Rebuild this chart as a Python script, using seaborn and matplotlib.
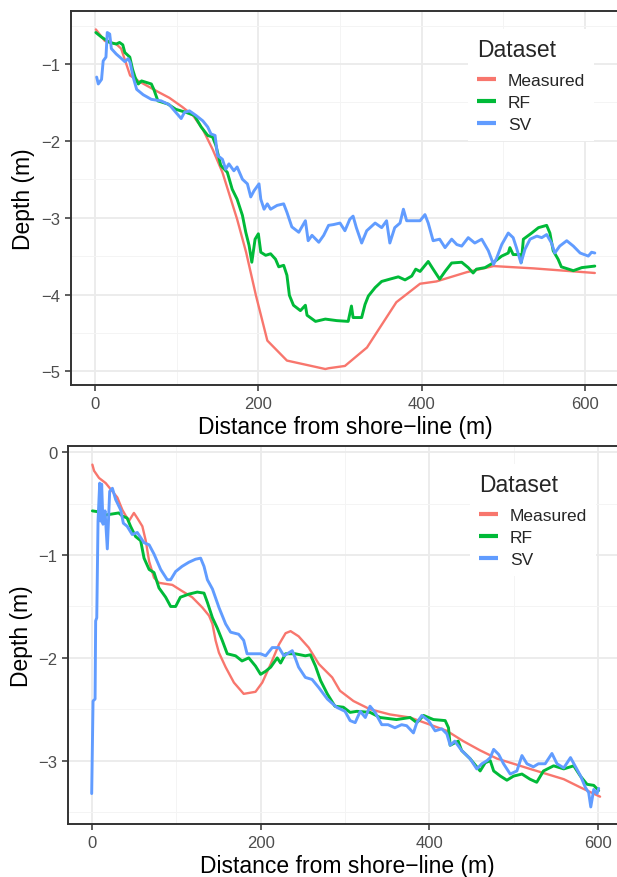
import numpy as np
import pandas as pd
import seaborn as sns
import matplotlib
matplotlib.use("Agg")
import matplotlib.pyplot as plt
from matplotlib.ticker import MultipleLocator

# ---- top transect ----
top_measured_x = [1, 12, 26, 32, 43, 53, 75, 91, 107, 120, 132, 144, 156, 174, 185, 197, 211, 235, 282,
                  286, 306, 333, 369, 398, 418, 455, 488, 537, 612]
top_measured_y = [-0.55, -0.70, -0.74, -0.80, -1.15, -1.22, -1.35, -1.44, -1.56, -1.67, -1.85, -2.11, -2.41,
                  -3.02, -3.45, -4.01, -4.60, -4.86, -4.97, -4.96, -4.93, -4.69, -4.10, -3.86, -3.83, -3.71,
                  -3.63, -3.66, -3.72]

top_rf_x = [1, 8, 18, 26, 30, 34, 36.5, 42.6, 46, 49, 53, 57, 69, 72, 77, 89, 99, 111.6, 121.7, 130, 138,
            144, 148, 154, 162, 168, 174, 180.5, 184.6, 188.6, 192, 196, 200, 203, 209, 215, 221, 225, 231,
            235, 238, 243, 251.5, 257.6, 259.6, 270, 282, 296, 310, 314, 316, 326.5, 330.6, 334.7, 343, 351,
            361, 371.4, 379.6, 387.8, 392.7, 398, 408, 414, 422, 428.6, 436.7, 449, 457, 463, 467, 477.6,
            485.7, 498, 506, 508, 512, 520, 522, 524.5, 534.7, 543, 553, 557, 561, 567, 571, 585.7, 596, 612]
top_rf_y = [-0.59, -0.65, -0.72, -0.74, -0.72, -0.75, -0.85, -0.91, -1.07, -1.17, -1.26, -1.22, -1.26,
            -1.33, -1.48, -1.52, -1.59, -1.63, -1.67, -1.82, -1.93, -1.95, -2.06, -2.32, -2.41, -2.63, -2.76,
            -2.97, -3.19, -3.36, -3.58, -3.28, -3.21, -3.45, -3.49, -3.47, -3.54, -3.64, -3.62, -3.75, -4.01,
            -4.14, -4.21, -4.14, -4.27, -4.35, -4.32, -4.34, -4.35, -4.15, -4.30, -4.30, -4.13, -4.02, -3.91,
            -3.83, -3.80, -3.77, -3.81, -3.76, -3.67, -3.70, -3.57, -3.67, -3.80, -3.70, -3.59, -3.58, -3.65,
            -3.72, -3.67, -3.65, -3.60, -3.50, -3.46, -3.39, -3.48, -3.48, -3.58, -3.28, -3.20, -3.13, -3.10,
            -3.20, -3.43, -3.54, -3.64, -3.69, -3.65, -3.63]

top_sv_x = [2, 4, 8, 10, 13.4, 15, 18, 20, 26, 32.5, 36.5, 40.6, 43, 46.7, 51, 59, 69, 81, 91, 99, 105.5,
            109.5, 115.6, 123.7, 132, 138, 142, 147, 150, 156, 160, 164, 170, 174, 180.5, 186.6, 190.7,
            194.7, 200.8, 203, 207, 211, 215, 223, 231, 235, 241, 249.5, 257.6, 261, 265.7, 274, 280, 286,
            292, 300, 306, 312, 316, 320, 326.5, 332.7, 343, 351, 357, 361, 367, 373.5, 377.6, 381.6, 390,
            398, 404, 408, 414, 422, 428.6, 436.7, 443, 449, 457, 465, 473.5, 481.6, 488, 492, 498, 506,
            512, 516, 521.6, 526.5, 532.7, 541, 547, 553, 559, 563, 569, 577.6, 585.7, 594, 604, 608, 612]
top_sv_y = [-1.17, -1.26, -1.20, -0.96, -0.91, -0.59, -0.61, -0.80, -0.87, -0.93, -0.97, -0.93, -0.98,
            -1.17, -1.33, -1.40, -1.46, -1.48, -1.53, -1.63, -1.71, -1.63, -1.61, -1.67, -1.74, -1.82, -1.91,
            -1.93, -2.19, -2.24, -2.37, -2.30, -2.39, -2.34, -2.50, -2.56, -2.73, -2.65, -2.56, -2.76, -2.89,
            -2.82, -2.89, -2.84, -2.82, -2.93, -3.12, -3.19, -3.04, -3.30, -3.23, -3.32, -3.23, -3.10, -3.09,
            -3.07, -3.17, -3.02, -2.98, -3.13, -3.33, -3.17, -3.07, -3.13, -3.04, -3.33, -3.13, -3.07, -2.89,
            -3.04, -3.04, -3.04, -2.96, -3.07, -3.30, -3.28, -3.39, -3.28, -3.35, -3.37, -3.26, -3.33, -3.28,
            -3.43, -3.61, -3.52, -3.35, -3.20, -3.26, -3.39, -3.59, -3.41, -3.28, -3.24, -3.26, -3.22, -3.33,
            -3.46, -3.37, -3.30, -3.37, -3.46, -3.50, -3.45, -3.46]

# ---- bottom transect ----
bot_measured_x = [0.8, 2.8, 8.7, 16.6, 24.5, 30.4, 36.3, 44, 50, 54, 60, 64, 68, 73.8, 79.7, 95.5, 107, 119,
                  131, 139, 143, 146.7, 150.7, 158.6, 168.4, 180, 194, 202, 212, 221.7, 229.6, 235.5, 245,
                  257, 269, 284.8, 294, 310, 329.6, 353, 377, 400.8, 420.6, 440, 460, 480, 499.6, 519, 539,
                  559, 578.7, 602]
bot_measured_y = [-0.12, -0.18, -0.25, -0.30, -0.38, -0.44, -0.56, -0.67, -0.59, -0.64, -0.72, -0.86, -1.06,
                  -1.22, -1.27, -1.29, -1.35, -1.41, -1.51, -1.59, -1.67, -1.83, -1.95, -2.09, -2.24, -2.35,
                  -2.33, -2.24, -2.06, -1.87, -1.76, -1.74, -1.79, -1.90, -2.06, -2.19, -2.32, -2.42, -2.50,
                  -2.55, -2.58, -2.65, -2.71, -2.81, -2.90, -2.98, -3.03, -3.08, -3.13, -3.18, -3.26, -3.35]

bot_rf_x = [0.8, 8.7, 16.6, 24.5, 32, 36.3, 42, 46, 52, 58, 62, 68, 73.8, 79.7, 87.6, 93.5, 99.4, 105, 115,
            125, 133, 137, 143, 148.7, 154.6, 160.5, 170.4, 178, 186, 194, 200, 206, 212, 219.7, 223.7, 229.6,
            241, 253, 259, 265, 271, 279, 288, 298, 306, 314, 329.6, 341.5, 361, 377, 385, 393, 404.7, 418.6,
            422.5, 424.5, 434, 438, 448, 456, 460, 466, 472, 476, 484, 491.7, 499.6, 509.5, 519, 527, 535,
            547, 559, 570.8, 578.7, 586.6, 594.5, 600.4]
bot_rf_y = [-0.57, -0.58, -0.61, -0.60, -0.59, -0.62, -0.64, -0.72, -0.82, -0.86, -1.03, -1.14, -1.17, -1.32,
            -1.41, -1.50, -1.50, -1.41, -1.38, -1.36, -1.37, -1.46, -1.61, -1.71, -1.83, -1.96, -1.98, -2.03,
            -2.00, -2.08, -2.16, -2.13, -2.09, -2.00, -2.05, -1.96, -1.96, -1.98, -1.97, -2.08, -2.22, -2.35,
            -2.47, -2.48, -2.53, -2.52, -2.53, -2.58, -2.60, -2.58, -2.63, -2.56, -2.60, -2.61, -2.68, -2.85,
            -2.81, -2.90, -2.98, -3.06, -3.10, -3.02, -3.00, -3.10, -3.15, -3.19, -3.15, -3.13, -3.18, -3.21,
            -3.10, -3.05, -3.08, -3.05, -3.15, -3.23, -3.24, -3.29]

bot_sv_x = [0, 1.6, 4, 4.7, 6, 7.5, 9.5, 10.7, 11.8, 13.4, 15.8, 18.5, 21.3, 24.5, 28.4, 34.3, 37.5, 42, 48,
            54, 62, 68, 73.8, 81.7, 89.5, 93.5, 99.4, 107, 115, 123, 129, 133, 137, 143, 150.7, 158.6, 164.5,
            174, 180, 184, 190, 200, 206, 213.8, 221.7, 227.6, 237.5, 241, 245, 253, 261, 269, 279, 290, 300,
            306, 312, 318, 324, 329.6, 335.6, 343.5, 351, 359, 367, 373, 381, 385, 391, 398.8, 406.7, 414.6,
            420.6, 424.5, 430, 438, 448, 456, 462, 468, 472, 476, 482, 487.7, 495.6, 503.5, 509.5, 515.4, 523,
            529, 537, 545, 551, 559, 567, 573, 579, 584.6, 588.5, 591, 594.5, 598.4, 600.4]
bot_sv_y = [-3.32, -2.42, -2.40, -1.64, -1.61, -0.67, -0.30, -0.67, -0.31, -0.70, -0.57, -0.94, -0.38, -0.35,
            -0.46, -0.56, -0.69, -0.72, -0.80, -0.78, -0.88, -0.90, -0.99, -1.14, -1.24, -1.24, -1.16, -1.11,
            -1.07, -1.04, -1.03, -1.11, -1.24, -1.33, -1.51, -1.67, -1.75, -1.77, -1.83, -1.96, -1.96, -1.96,
            -1.98, -1.90, -1.90, -1.98, -1.93, -2.00, -2.09, -2.19, -2.21, -2.29, -2.40, -2.48, -2.52, -2.61,
            -2.63, -2.52, -2.58, -2.47, -2.53, -2.65, -2.65, -2.68, -2.65, -2.66, -2.73, -2.63, -2.56, -2.61,
            -2.71, -2.69, -2.74, -2.85, -2.81, -2.90, -2.98, -3.08, -3.03, -3.00, -2.97, -2.89, -2.94, -3.03,
            -3.13, -3.10, -2.95, -3.03, -3.06, -3.03, -3.03, -2.93, -3.03, -3.07, -2.97, -3.06, -3.15, -3.26,
            -3.31, -3.45, -3.28, -3.32, -3.27]

datasets = ["Measured", "RF", "SV"]
palette = {"Measured": "#F8766D", "RF": "#00BA38", "SV": "#619CFF"}


def make_df(xs, ys):
    parts = []
    for name, x, y in zip(datasets, xs, ys):
        parts.append(pd.DataFrame({"dist": x, "depth": y, "Dataset": name}))
    return pd.concat(parts, ignore_index=True)


top_df = make_df([top_measured_x, top_rf_x, top_sv_x], [top_measured_y, top_rf_y, top_sv_y])
bot_df = make_df([bot_measured_x, bot_rf_x, bot_sv_x], [bot_measured_y, bot_rf_y, bot_sv_y])

sns.set_theme(style="white")
plt.rcParams['font.family'] = ['Liberation Sans', 'DejaVu Sans']

fig = plt.figure(figsize=(6.17, 8.78), dpi=100)
W, H = 617, 878
ax1 = fig.add_axes([71 / W, 1 - 385.7 / H, 548 / W, 373.4 / H])
ax2 = fig.add_axes([68.3 / W, 1 - 825 / H, 557.1 / W, 378.3 / H])


def style_panel(ax, df, xlim, ylim, legend_anchor):
    ax.grid(True, which="major", color="#EBEBEB", lw=1.3, zorder=0)
    ax.grid(True, which="minor", color="#F4F4F4", lw=0.7, zorder=0)
    ax.set_axisbelow(True)
    for d in datasets:
        sub = df[df["Dataset"] == d]
        sns.lineplot(data=sub, x="dist", y="depth", color=palette[d], estimator=None, sort=False,
                     lw=1.7 if d == "Measured" else 2.1, ax=ax, label=d)
    ax.set_xlim(*xlim)
    ax.set_ylim(*ylim)
    ax.xaxis.set_major_locator(MultipleLocator(200))
    ax.xaxis.set_minor_locator(MultipleLocator(100))
    ax.yaxis.set_major_locator(MultipleLocator(1))
    ax.yaxis.set_minor_locator(MultipleLocator(0.5))
    ax.tick_params(which="major", direction="out", length=4, width=1.1, color="#333333",
                   labelsize=12, labelcolor="#4D4D4D", left=True, bottom=True, pad=4)
    ax.tick_params(which="minor", length=0)
    for s in ["left", "bottom", "top"]:
        ax.spines[s].set_color("#333333")
        ax.spines[s].set_linewidth(1.4)
    ax.spines["right"].set_visible(False)
    ax.set_xlabel("Distance from shore\u2212line (m)", fontsize=16.5, color="black", labelpad=3)
    ax.set_ylabel("Depth (m)", fontsize=16.5, color="black", labelpad=4)
    h, l = ax.get_legend_handles_labels()
    leg = ax.legend(h, l, title="Dataset", loc="upper left", bbox_to_anchor=legend_anchor,
                    bbox_transform=fig.transFigure, frameon=True, fancybox=False, framealpha=1,
                    facecolor="white", edgecolor="none", fontsize=12.5, title_fontsize=16.5,
                    handlelength=1.1, handletextpad=0.7, labelspacing=0.38, borderpad=0.5,
                    borderaxespad=0, alignment="left")
    leg._legend_box.sep = 9
    for line in leg.get_lines():
        line.set_linewidth(3)
        line.set_solid_capstyle("butt")


style_panel(ax1, top_df, (-29.4, 641.6), (-5.174, -0.314), (468 / W, 1 - 30 / H))
style_panel(ax2, bot_df, (-27.7, 632), (-3.616, 0.064), (470 / W, 1 - 465 / H))

fig.savefig("out.png", dpi=100)
